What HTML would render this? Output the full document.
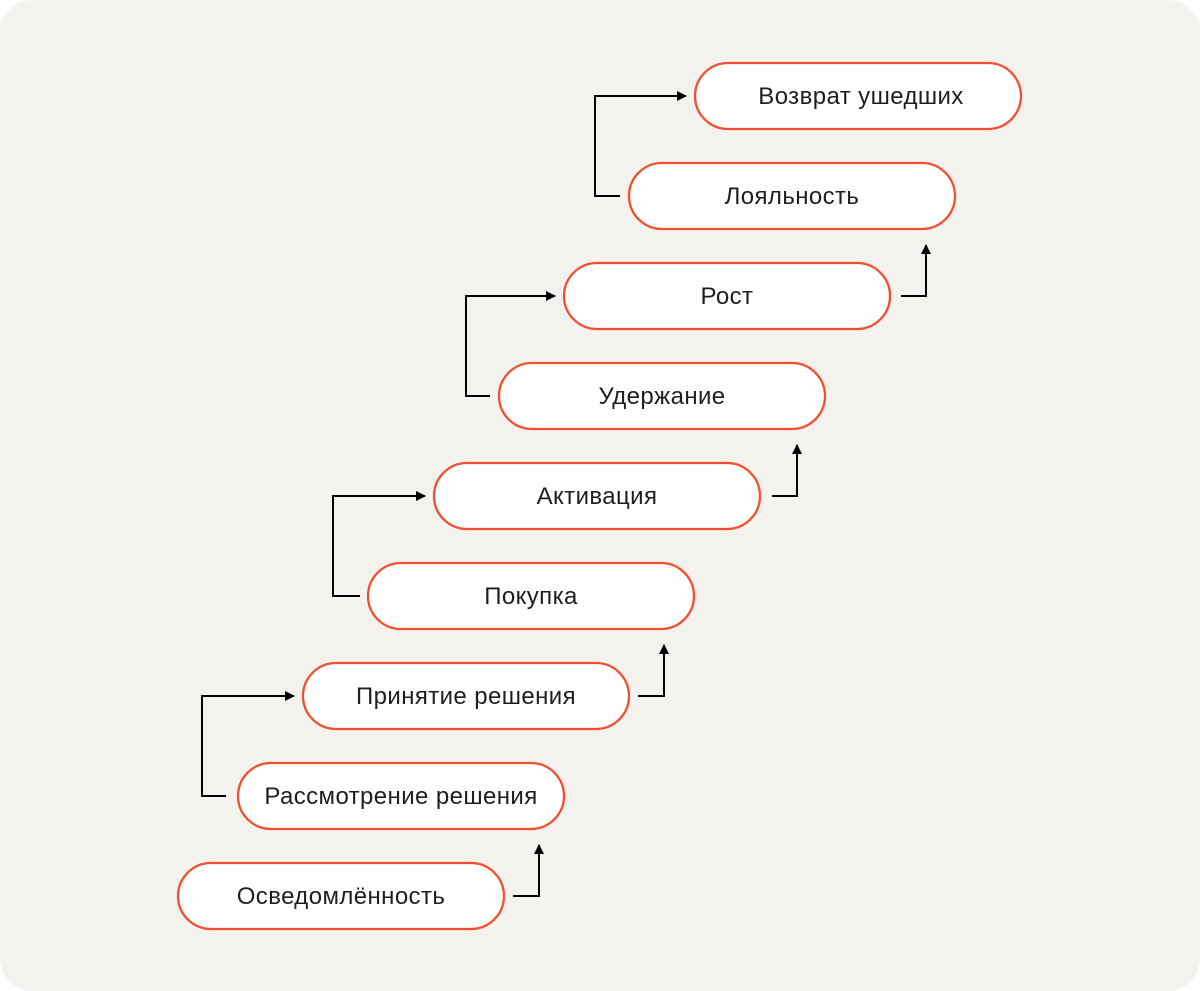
<!DOCTYPE html>
<html><head><meta charset="utf-8"><style>
html,body{margin:0;padding:0;background:#fff;}
.bg{position:absolute;left:0;top:0;width:1200px;height:991px;background:#f3f2ee;border-radius:32px;}
svg{position:absolute;left:0;top:0;}
text{font-family:"Liberation Sans","DejaVu Sans",sans-serif;font-size:24px;letter-spacing:0.4px;fill:#1e1e1e;}
</style></head><body>
<div class="bg"></div>
<svg width="1200" height="991" viewBox="0 0 1200 991">
<defs><marker id="a" markerWidth="10" markerHeight="10" refX="9" refY="5" orient="auto" markerUnits="userSpaceOnUse"><path d="M0,0 L10,5 L0,10 z" fill="#000"/></marker></defs>
<g fill="#fff" stroke="#f0502f" stroke-width="2.3">
<rect x="178" y="863" width="326" height="66" rx="33"/>
<rect x="238" y="763" width="326" height="66" rx="33"/>
<rect x="303" y="663" width="326" height="66" rx="33"/>
<rect x="368" y="563" width="326" height="66" rx="33"/>
<rect x="434" y="463" width="326" height="66" rx="33"/>
<rect x="499" y="363" width="326" height="66" rx="33"/>
<rect x="564" y="263" width="326" height="66" rx="33"/>
<rect x="629" y="163" width="326" height="66" rx="33"/>
<rect x="695" y="63" width="326" height="66" rx="33"/>
</g>
<g text-anchor="middle">
<text x="341" y="904">Осведомлённость</text>
<text x="401" y="804">Рассмотрение решения</text>
<text x="466" y="704">Принятие решения</text>
<text x="531" y="604">Покупка</text>
<text x="597" y="504">Активация</text>
<text x="662" y="404">Удержание</text>
<text x="727" y="304">Рост</text>
<text x="792" y="204">Лояльность</text>
<text x="861" y="104">Возврат ушедших</text>
</g>
<g fill="none" stroke="#000" stroke-width="2" marker-end="url(#a)">
<path d="M513,896 H539 V845"/>
<path d="M638,696 H664 V645"/>
<path d="M772,496 H797 V445"/>
<path d="M901,296 H926 V245"/>
<path d="M226,796 H202 V696 H294"/>
<path d="M360,596 H333 V496 H425"/>
<path d="M490,396 H466 V296 H555"/>
<path d="M620,196 H595 V96 H686"/>
</g>
</svg>
</body></html>
